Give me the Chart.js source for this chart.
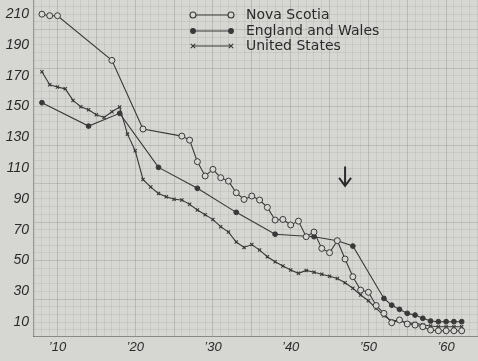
<!DOCTYPE html>
<html><head><meta charset="utf-8">
<script src="https://cdn.jsdelivr.net/npm/chart.js@4.4.1/dist/chart.umd.min.js"></script>
<style>
html,body{margin:0;padding:0;background:#d6d6d3;}
#wrap{width:478px;height:361px;position:relative;}
</style></head><body>
<div id="wrap"><canvas id="c" width="478" height="361"></canvas></div>
<script>
// ---- data ----
const seriesNames = ["Nova Scotia", "England and Wales", "United States"];

const nsYears  = [1908,1909,1910,1917,1921,1926,1927,1928,1929,1930,1931,1932,1933,1934,1935,1936,1937,1938,1939,1940,1941,1942,1943,1944,1945,1946,1947,1948,1949,1950,1951,1952,1953,1954,1955,1956,1957,1958,1959,1960,1961,1962];
const nsValues = [210,209,209,180,135.4,130.8,128.2,114.2,104.9,109.2,103.8,101.6,94.0,89.7,91.9,89.3,84.5,76.3,76.7,73.1,75.6,65.5,68.5,57.9,55.1,62.9,51.0,39.5,30.8,29.4,20.8,15.7,9.6,11.4,8.8,8.1,7.0,4.9,4.4,4.4,4.4,4.4];

const ewYears  = [1908,1914,1918,1923,1928,1933,1938,1943,1946,1948,1952,1953,1954,1955,1956,1957,1958,1959,1960,1961,1962];
const ewValues = [152.5,137.3,145.6,110.5,96.9,81.3,67.1,65.5,62.9,59.4,25.4,21.0,18.3,15.7,14.6,12.5,10.7,10.3,10.3,10.3,10.3];

const usYears  = [1908,1909,1910,1911,1912,1913,1914,1915,1916,1917,1918,1919,1920,1921,1922,1923,1924,1925,1926,1927,1928,1929,1930,1931,1932,1933,1934,1935,1936,1937,1938,1939,1940,1941,1942,1943,1944,1945,1946,1947,1948,1949,1950,1951,1952,1953,1954,1955,1956,1957,1958,1959,1960,1961,1962];
const usValues = [172.6,164.2,162.7,161.5,154.0,149.9,147.9,144.7,142.9,146.6,149.7,132.1,121.3,102.7,97.7,93.6,91.4,89.8,89.3,86.5,82.8,79.8,76.6,72.0,68.5,62.0,58.5,60.4,56.8,52.5,49.2,46.4,43.8,41.7,43.6,42.4,41.1,39.8,38.4,35.6,32.0,27.6,23.9,19.0,14.2,10.8,11.2,9.5,9.2,8.3,7.5,7.0,7.0,7.0,7.0];

const xTickYears  = [1910,1920,1930,1940,1950,1960];
const xTickLabels = ["’10","’20","’30","’40","’50","’60"];
const yTickValues = [10,30,50,70,90,110,130,150,170,190,210];
const yTickLabels = ["10","30","50","70","90","110","130","150","170","190","210"];

// arrow annotation (year, from value, to value)
const arrowYear = 1947.0, arrowFrom = 111, arrowTo = 98.5;

// ---- styling ----
const PAPER = '#d6d6d3';
const INK = '#383838';

function pts(xs, ys){ return xs.map((x,i)=>({x:x, y:ys[i]})); }
function range(a,b,s){ const r=[]; for(let v=a; v<=b; v+=s) r.push({value:v}); return r; }
function noPad(s){ s.paddingTop=0; s.paddingBottom=0; s.paddingLeft=0; s.paddingRight=0; }

const legendPlugin = {
  id:'handLegend',
  afterDraw(chart){
    const ctx = chart.ctx;
    const rows = [15, 31, 46];
    ctx.save();
    chart.data.datasets.forEach((ds,i)=>{
      const y = rows[i];
      const x0 = 193, x1 = 231;
      ctx.strokeStyle = INK; ctx.lineWidth = 1.1;
      ctx.beginPath(); ctx.moveTo(x0,y); ctx.lineTo(x1,y); ctx.stroke();
      [x0,x1].forEach(px=>{
        ctx.beginPath();
        if (ds.pointStyle === 'crossRot'){
          const r = 2.2;
          ctx.moveTo(px-r,y-r); ctx.lineTo(px+r,y+r);
          ctx.moveTo(px+r,y-r); ctx.lineTo(px-r,y+r);
          ctx.stroke();
        } else {
          ctx.arc(px,y,ds.pointRadius,0,Math.PI*2);
          ctx.fillStyle = ds.pointBackgroundColor; ctx.fill();
          ctx.stroke();
        }
      });
      ctx.fillStyle = '#2a2a2a';
      ctx.font = '14px "DejaVu Sans"';
      ctx.textBaseline = 'middle';
      ctx.fillText(ds.label, 246, y);
    });
    // arrow
    const xs = chart.scales.x, ys = chart.scales.y;
    const ax = xs.getPixelForValue(arrowYear);
    const ay0 = ys.getPixelForValue(arrowFrom), ay1 = ys.getPixelForValue(arrowTo);
    ctx.strokeStyle = '#2a2a2a'; ctx.lineWidth = 2;
    ctx.beginPath(); ctx.moveTo(ax, ay0); ctx.lineTo(ax, ay1);
    ctx.moveTo(ax-6, ay1-8); ctx.lineTo(ax, ay1); ctx.lineTo(ax+6, ay1-8);
    ctx.stroke();
    ctx.restore();
  }
};

new Chart(document.getElementById('c'), {
  type:'line',
  data:{
    datasets:[
      {label:seriesNames[0], data:pts(nsYears,nsValues), borderColor:INK, borderWidth:1.1,
       pointStyle:'circle', pointRadius:3, pointBackgroundColor:PAPER, pointBorderColor:INK, pointBorderWidth:1, tension:0},
      {label:seriesNames[1], data:pts(ewYears,ewValues), borderColor:INK, borderWidth:1.1,
       pointStyle:'circle', pointRadius:2.4, pointBackgroundColor:INK, pointBorderColor:INK, pointBorderWidth:1, tension:0},
      {label:seriesNames[2], data:pts(usYears,usValues), borderColor:INK, borderWidth:1.1,
       pointStyle:'crossRot', pointRadius:2.3, pointBackgroundColor:INK, pointBorderColor:INK, pointBorderWidth:1.1, tension:0}
    ]
  },
  options:{
    responsive:false, animation:false, devicePixelRatio:1,
    layout:{padding:0, autoPadding:false},
    plugins:{legend:{display:false}, tooltip:{enabled:false}},
    scales:{
      x:{type:'linear', min:1906.85, max:1964.1, bounds:'data',
         afterBuildTicks(s){ s.ticks = range(1907,1964,1); },
         afterFit(s){ s.height = 25; noPad(s); },
         grid:{color:c=> (c.tick && Math.round(c.tick.value)%5===0) ? 'rgba(70,70,70,0.2)' : 'rgba(70,70,70,0.085)', lineWidth:1, drawTicks:false},
         border:{color:'rgba(60,60,60,0.5)'},
         ticks:{autoSkip:false, maxRotation:0, padding:4,
                color:'#2a2a2a', font:{family:'"Liberation Sans"', size:13, style:'italic'},
                callback:(v)=>{ const i = xTickYears.indexOf(Math.round(v)); return i>=0 ? xTickLabels[i] : ''; }}
      },
      y:{type:'linear', min:1, max:219.2, bounds:'data',
         afterBuildTicks(s){ s.ticks = range(5,215,5); },
         afterFit(s){ s.width = 33; noPad(s); },
         grid:{color:c=> (c.tick && Math.round(c.tick.value)%25===0) ? 'rgba(70,70,70,0.18)' : 'rgba(70,70,70,0.085)', lineWidth:1, drawTicks:false},
         border:{color:'rgba(60,60,60,0.4)'},
         ticks:{autoSkip:false, padding:4,
                color:'#2a2a2a', font:{family:'"Liberation Sans"', size:14, style:'italic'},
                callback:(v)=>{ const i = yTickValues.indexOf(Math.round(v)); return i>=0 ? yTickLabels[i] : ''; }}
      }
    }
  },
  plugins:[legendPlugin]
});
</script>
</body></html>
